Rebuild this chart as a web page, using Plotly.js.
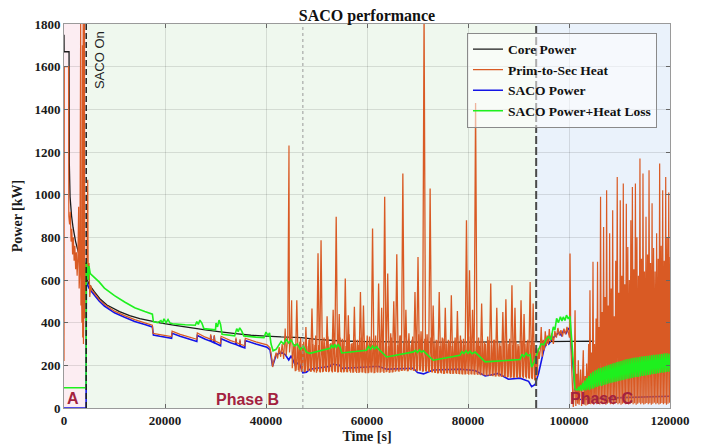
<!DOCTYPE html>
<html>
<head>
<meta charset="utf-8">
<script src="https://cdn.plot.ly/plotly-3.0.1.min.js"></script>
<style>html,body{margin:0;padding:0;background:#fff;}#chart{width:707px;height:448px;}</style>
</head>
<body>
<div id="chart"></div>
<script>
// ---------------- data ----------------
const xTicks = [0, 20000, 40000, 60000, 80000, 100000, 120000];
const yTicks = [0, 200, 400, 600, 800, 1000, 1200, 1400, 1600, 1800];
const legendNames = ["Core Power", "Prim-to-Sec Heat", "SACO Power", "SACO Power+Heat Loss"];

// Phase boundaries [s]
const phaseAEnd = 4400;
const phaseBEnd = 93500;
const midMarker = 47300;

// Core Power
const coreT = [0, 20, 1000, 1050, 1200, 1500, 1800, 2300, 2800, 3500, 4200, 5000, 6000, 7100, 8500, 11000, 13000, 15000, 19000, 22000, 25000, 28000, 31000, 34000, 37000, 40000, 43000, 47000, 50000, 55000, 60000, 70000, 80000, 90000, 100000, 105000];
const coreV = [1750, 1670, 1670, 1150, 990, 900, 845, 780, 735, 680, 625, 578, 545, 512, 483, 452, 433, 419, 399, 387, 377, 366, 357, 349, 341, 337, 333, 330, 322, 314, 311, 309, 309, 310, 312, 313];

// SACO Power
const sacoT = [0, 4380, 4420, 5000, 6000, 7000, 8000, 10000, 12000, 14000, 16000, 17500, 17700, 19000, 21300, 21400, 23000, 26300, 26400, 28000, 29000, 29050, 29150, 29700, 29750, 29850, 31000, 31100, 33000, 34000, 34050, 34150, 34800, 34850, 34950, 35800, 35900, 38000, 40200, 40800, 41300, 42000, 43000, 43800, 44500, 45000, 45800, 46500, 47300, 48000, 48700, 52700, 53000, 54600, 55000, 59900, 62200, 63900, 69200, 70000, 71200, 72000, 73100, 78400, 81400, 83400, 84500, 86000, 88000, 90300, 92000, 92600, 93300, 94000, 95000, 95600, 96000, 96900, 97500, 98000, 98500, 98900, 99400, 99900, 100200, 101200, 102000, 106000, 112000, 120000];
const sacoV = [0, 0, 590, 560, 530, 500, 478, 446, 425, 406, 391, 380, 342, 336, 327, 350, 336, 312, 340, 322, 313, 340, 312, 306, 336, 305, 292, 325, 306, 298, 322, 297, 290, 315, 289, 282, 316, 300, 285, 272, 196, 248, 262, 250, 225, 245, 200, 215, 165, 168, 182, 196, 206, 200, 186, 192, 196, 182, 186, 166, 160, 168, 178, 182, 176, 150, 155, 162, 135, 140, 125, 100, 110, 165, 270, 318, 300, 330, 342, 355, 340, 362, 350, 372, 368, 83, 40, 45, 50, 55];

// SACO Power + Heat Loss (sparse part)
const lossT = [0, 4380, 4420, 4600, 4800, 4950, 5200, 6000, 7000, 8000, 10000, 12000, 14000, 16000, 17500, 17700, 18500, 19200, 19500, 19800, 20200, 20600, 21000, 21500, 24000, 26000, 26300, 26600, 26900, 27300, 27700, 30000, 30100, 30400, 30700, 31000, 31300, 33800, 34200, 34500, 34800, 35200, 35600, 38000, 39600, 40000, 40400, 40700, 41000, 41400, 42000, 43000, 43500, 44000, 44500, 45000, 45600, 46200, 46800, 47400, 48000, 48700, 52700, 53000, 53300, 53600, 53900, 54300, 54650, 55000, 59900, 60300, 60700, 61100, 61500, 61900, 62200, 63900, 69200, 69600, 70000, 70400, 70800, 71150, 73100, 78400, 78800, 79200, 79600, 80000, 80400, 80800, 81400, 83400, 90300, 90700, 91100, 91500, 91900, 92300, 92600, 93000, 93300, 93900, 94500, 95000, 95570, 96000, 96400, 96900, 97200, 97550, 97900, 98300, 98600, 98870, 99200, 99500, 99860, 100190, 100600, 101180, 101500];
const lossV = [95, 95, 685, 650, 600, 665, 630, 612, 590, 562, 527, 497, 470, 452, 440, 405, 400, 410, 398, 418, 400, 415, 398, 395, 390, 388, 405, 392, 412, 398, 372, 366, 398, 380, 412, 392, 345, 338, 372, 358, 376, 360, 338, 332, 330, 356, 340, 352, 300, 268, 275, 312, 300, 322, 305, 318, 290, 300, 275, 290, 262, 256, 280, 296, 282, 298, 284, 297, 285, 258, 271, 288, 276, 290, 278, 288, 278, 239, 263, 270, 260, 272, 262, 268, 224, 247, 264, 255, 268, 256, 266, 254, 262, 216, 227, 252, 240, 258, 244, 250, 192, 210, 230, 271, 300, 296, 325, 335, 320, 380, 365, 420, 400, 428, 408, 427, 410, 435, 418, 430, 300, 91, 83];
// SACO Power + Heat Loss, Phase C noisy band (sampled every 200 s from 101500 s)
const lossC_t0 = 101500, lossC_dt = 200;
const lossC = [90,83,100,82,108,80,118,84,128,82,
  140,86,150,84,163,90,170,92,176,97,
  180,100,186,104,188,103,192,108,196,110,
  199,114,203,116,206,118,209,121,212,123,
  215,125,218,128,220,130,224,132,227,135,
  229,137,231,139,233,141,235,143,236,145,
  238,146,239,148,241,150,242,151,243,153,
  245,155,246,156,247,158,249,160,250,161,
  251,163,252,165,253,166,255,167,256,169,
  256,170,254,168];

// Prim-to-Sec Heat: Phase A and early Phase B
const heatT = [0, 60, 900, 950, 1100, 1250, 1400, 1550, 1700, 1850, 2000, 2150, 2300, 2450, 2600, 2750, 2900, 3000, 3150, 3300, 3350, 3450, 3550, 3650, 3700, 3800, 3850, 3950, 4050, 4100, 4250, 4400, 4550, 4700, 4800, 4950, 5100, 5300, 5500, 6000, 7000, 8000, 10000, 12000, 14000, 16000, 17500, 17600, 19000, 21300, 21400, 23000, 26300, 26400, 28000, 29000, 29050, 29150, 29700, 29750, 29850, 31000, 31100, 33000, 34000, 34050, 34150, 34800, 34850, 34950, 35800, 35900, 38000, 40200, 40800, 41100, 41300, 41500, 42000, 42300, 42600, 42900, 43200, 43500, 43800, 44000, 44300, 44550, 44650, 44850, 45080, 45200, 45500];
const heatV = [220, 1600, 1600, 900, 860, 920, 780, 840, 720, 800, 690, 760, 650, 730, 620, 700, 943, 560, 650, 1850, 480, 600, 400, 1700, 330, 1850, 300, 520, 1850, 420, 680, 560, 700, 1070, 600, 680, 520, 575, 553, 538, 508, 486, 454, 433, 414, 399, 388, 350, 344, 335, 360, 345, 322, 352, 332, 323, 345, 322, 316, 342, 315, 302, 336, 316, 308, 330, 307, 300, 322, 299, 292, 327, 310, 296, 282, 240, 192, 215, 260, 232, 285, 240, 300, 230, 373, 245, 330, 1231, 260, 310, 505, 186, 290];
// Prim-to-Sec Heat: late Phase B, sampled every 300 s from 45500 s
const heatB_t0 = 45500, heatB_dt = 300;
const heatB = [290,172,505,178,310,170,300,168,380,175,
  320,170,466,174,295,165,725,170,786,168,
  330,172,430,168,300,171,460,170,896,166,
  440,169,325,167,607,168,435,172,300,165,
  474,170,320,164,544,167,480,165,310,163,
  335,166,841,163,340,168,583,165,470,170,
  990,168,630,165,350,167,500,170,721,172,
  340,174,1099,175,460,172,350,178,320,175,
  544,172,708,176,360,170,1850,172,345,170,
  1029,168,480,165,320,162,544,165,330,160,
  470,163,320,162,529,160,315,162,455,160,
  340,158,325,157,880,160,646,158,460,157,
  1430,158,330,155,490,155,310,152,335,150,
  583,150,320,148,470,150,305,146,450,145,
  510,143,300,142,575,142,470,145,300,144,
  505,146,440,145,310,140,591,138,490,130,
  280];
// Prim-to-Sec Heat: late Phase B, interleaved samples (every 300 s from 45650 s)
const heatB2_t0 = 45650, heatB2_dt = 300;
const heatB2 = [300,175,285,170,330,172,310,168,290,174,
  325,170,300,168,340,172,295,166,315,170,
  288,169,335,171,305,167,320,170,298,168,
  330,166,310,170,290,168,345,165,305,167,
  320,164,295,168,330,166,310,163,340,165,
  300,167,325,164,290,166,315,168,335,164,
  305,170,290,166,330,168,312,172,295,170,
  340,173,305,176,320,172,298,177,335,174,
  310,173,345,175,300,171,325,170,295,169,
  330,166,305,164,318,163,290,162,326,161,
  300,162,315,160,290,161,330,159,305,158,
  320,157,295,158,310,156,335,157,300,156,
  315,155,290,154,325,153,300,151,318,150,
  295,149,320,148,305,147,290,146,315,145,
  300,144,325,143,295,142,310,141,290,142,
  315,140,300,139,320,137,295,135,305,128,
  270];
// Prim-to-Sec Heat: start of Phase C
const heatCT = [93500, 93700, 93900, 94100, 94300, 94500, 94700, 94900, 95100, 95300, 95500, 95700, 95900, 96100, 96300, 96600, 96900, 97200, 97500, 97800, 98100, 98400, 98700, 99000, 99300, 99600, 99900, 100100, 100200, 100350, 100600, 100850, 101000, 101200, 101350, 101550, 101700, 101840, 102000, 102300, 102500, 102830, 103000, 103200, 103350, 103500, 103700, 103900, 104000];
const heatCV = [280, 150, 280, 230, 270, 380, 240, 320, 270, 360, 290, 340, 300, 370, 310, 350, 300, 360, 330, 375, 340, 365, 335, 372, 345, 380, 350, 330, 724, 300, 150, 5, 60, 458, 10, 160, 20, 224, 15, 180, 10, 271, 15, 150, 12, 209, 15, 300, 20];
// Prim-to-Sec Heat: oscillating Phase C, sampled every 150 s from 104000 s
const heatD_t0 = 104000, heatD_dt = 150;
const heatD = [20,552,18,260,22,685,15,300,25,420,
  18,685,20,380,16,990,24,450,18,849,
  22,520,15,1021,20,480,25,819,18,560,
  22,927,16,430,20,690,24,1083,18,540,
  22,974,15,620,20,1052,25,580,18,958,
  22,755,16,600,20,880,24,1036,18,650,
  22,1052,15,800,20,620,25,1170,18,700,
  22,1099,16,640,20,896,24,720,18,1115,
  22,680,15,960,20,750,25,640,18,819,
  22,700,16,1146,20,760,24,1021,18,690,
  22,1083,15,800,20,1010,25,708];

// ---------------- styles ----------------
const cCore = '#1b1b1b', cHeat = '#d95a24', cSaco = '#1414e6', cLoss = '#1ef01e';
const serif = 'Liberation Serif, Times New Roman, serif';
const sans = 'Liberation Sans, Arial, sans-serif';
const phaseRed = '#a3223f';

function ln(color, width) { return {color: color, width: width, simplify: false}; }

const traces = [
  {x: sacoT, y: sacoV, name: legendNames[2], legendrank: 3, mode: 'lines', line: ln(cSaco, 1.6)},
  {x: coreT, y: coreV, name: legendNames[0], legendrank: 1, mode: 'lines', line: ln(cCore, 1.3)},
  {x: heatT, y: heatV, name: legendNames[1], legendrank: 2, legendgroup: 'heat', mode: 'lines', line: ln(cHeat, 1.2)},
  {y: heatB2, x0: heatB2_t0, dx: heatB2_dt, name: legendNames[1], legendgroup: 'heat', showlegend: false, mode: 'lines', line: ln(cHeat, 1.3)},
  {y: heatB, x0: heatB_t0, dx: heatB_dt, name: legendNames[1], legendgroup: 'heat', showlegend: false, mode: 'lines', line: ln(cHeat, 1.3)},
  {x: heatCT, y: heatCV, name: legendNames[1], legendgroup: 'heat', showlegend: false, mode: 'lines', line: ln(cHeat, 1.3)},
  {y: heatD, x0: heatD_t0, dx: heatD_dt, name: legendNames[1], legendgroup: 'heat', showlegend: false, mode: 'lines', line: ln(cHeat, 1.2)},
  {x: lossT, y: lossV, name: legendNames[3], legendrank: 4, legendgroup: 'loss', mode: 'lines', line: ln(cLoss, 1.6)},
  {y: lossC, x0: lossC_t0, dx: lossC_dt, name: legendNames[3], legendgroup: 'loss', showlegend: false, mode: 'lines', line: ln(cLoss, 1.4)}
];

const axisCommon = {
  showline: true, linecolor: '#9a9a9a', linewidth: 1, mirror: 'ticks',
  ticks: 'inside', ticklen: 4, tickcolor: '#666', tickwidth: 1,
  showgrid: true, gridcolor: 'rgba(0,0,0,0.11)', gridwidth: 1,
  zeroline: false, automargin: false,
  tickfont: {family: serif, size: 13, color: '#1a1a1a', weight: 'bold'}
};

const layout = {
  width: 707, height: 448,
  margin: {l: 64, r: 37, t: 24, b: 40},
  paper_bgcolor: '#ffffff', plot_bgcolor: '#ffffff',
  showlegend: true,
  title: {text: '<b>SACO performance</b>', font: {family: serif, size: 16, color: '#111'}, x: 0.5, xref: 'paper', xanchor: 'center', y: 1 - 15/448, yref: 'container', yanchor: 'middle'},
  xaxis: Object.assign({}, axisCommon, {
    range: [0, 120000], tickvals: xTicks, ticktext: xTicks.map(String),
    title: {text: '<b>Time [s]</b>', font: {family: serif, size: 14, color: '#1a1a1a'}, standoff: 4}
  }),
  yaxis: Object.assign({}, axisCommon, {
    range: [0, 1800], tickvals: yTicks, ticktext: yTicks.map(String),
    title: {text: '<b>Power [kW]</b>', font: {family: serif, size: 14, color: '#1a1a1a'}, standoff: 8}
  }),
  legend: {
    x: 0.665, y: 0.977, xanchor: 'left', yanchor: 'top',
    bgcolor: 'rgba(255,255,255,0.55)', bordercolor: '#8a8a8a', borderwidth: 1,
    font: {family: serif, size: 13.5, color: '#111', weight: 'bold'},
    itemwidth: 30, tracegroupgap: 0, traceorder: 'normal'
  },
  shapes: [
    {type: 'rect', xref: 'x', yref: 'paper', x0: 0, x1: phaseAEnd, y0: 0, y1: 1, fillcolor: '#fcedf2', line: {width: 0}, layer: 'below'},
    {type: 'rect', xref: 'x', yref: 'paper', x0: phaseAEnd, x1: phaseBEnd, y0: 0, y1: 1, fillcolor: '#eff8ee', line: {width: 0}, layer: 'below'},
    {type: 'rect', xref: 'x', yref: 'paper', x0: phaseBEnd, x1: 120000, y0: 0, y1: 1, fillcolor: '#eaf2fb', line: {width: 0}, layer: 'below'},
    {type: 'line', xref: 'x', yref: 'paper', x0: phaseAEnd, x1: phaseAEnd, y0: 0, y1: 1, line: {color: '#222', width: 1.5, dash: '6px,3px'}, layer: 'above'},
    {type: 'line', xref: 'x', yref: 'paper', x0: midMarker, x1: midMarker, y0: 0, y1: 1, line: {color: '#9a9a9a', width: 1, dash: 'dot'}, layer: 'above'},
    {type: 'line', xref: 'x', yref: 'paper', x0: phaseBEnd, x1: phaseBEnd, y0: 0, y1: 1, line: {color: '#4a4a4a', width: 2, dash: '8px,3px'}, layer: 'above'}
  ],
  annotations: [
    {x: 6930, y: 1631, xref: 'x', yref: 'y', text: 'SACO On', textangle: -90, showarrow: false, font: {family: sans, size: 13, color: '#222'}},
    {x: 1780, y: 43, xref: 'x', yref: 'y', text: '<b>A</b>', showarrow: false, font: {family: sans, size: 16, color: phaseRed}},
    {x: 36430, y: 41, xref: 'x', yref: 'y', text: '<b>Phase B</b>', showarrow: false, font: {family: sans, size: 16, color: phaseRed}},
    {x: 106500, y: 45, xref: 'x', yref: 'y', text: '<b>Phase C</b>', showarrow: false, font: {family: sans, size: 16, color: phaseRed}}
  ]
};

Plotly.newPlot('chart', traces, layout, {displayModeBar: false, staticPlot: true});
</script>
</body>
</html>
